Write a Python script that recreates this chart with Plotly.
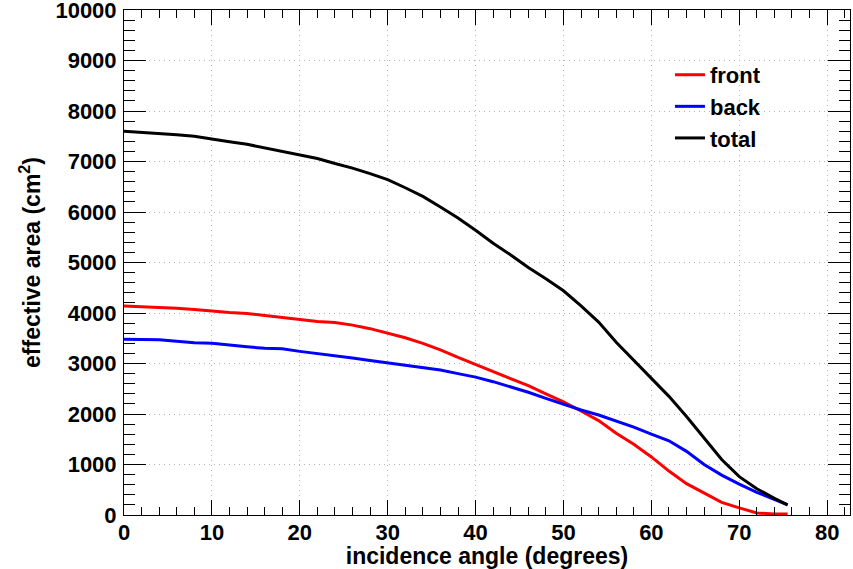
import plotly.graph_objects as go

angle = [0, 2, 4, 6, 8, 10, 12, 14, 16, 18, 20, 22, 24, 26, 28, 30, 32, 34, 36, 38,
         40, 42, 44, 46, 48, 50, 52, 54, 56, 58, 60, 62, 64, 66, 68, 70, 72, 74, 75.5]
front = [4140, 4130, 4120, 4095, 4070, 4035, 4010, 3990, 3950, 3910, 3870, 3830, 3810,
         3760, 3690, 3600, 3510, 3400, 3270, 3120, 2980, 2840, 2700, 2560, 2400, 2240,
         2060, 1870, 1620, 1400, 1150, 870, 620, 430, 250, 140, 40, 20, 20]
back = [3480, 3475, 3470, 3440, 3410, 3400, 3360, 3330, 3300, 3290, 3240, 3200, 3160,
        3110, 3060, 3010, 2970, 2920, 2870, 2800, 2730, 2640, 2540, 2430, 2310, 2190,
        2080, 1980, 1860, 1740, 1600, 1470, 1260, 1000, 790, 610, 450, 300, 200]
total = [7600, 7580, 7560, 7530, 7500, 7440, 7390, 7340, 7270, 7200, 7130, 7060, 6960,
         6870, 6760, 6640, 6480, 6310, 6100, 5880, 5640, 5380, 5150, 4900, 4680, 4440,
         4140, 3820, 3420, 3060, 2700, 2350, 1950, 1520, 1100, 760, 520, 330, 200]

x_ticks = [0, 10, 20, 30, 40, 50, 60, 70, 80]
y_ticks = [0, 1000, 2000, 3000, 4000, 5000, 6000, 7000, 8000, 9000, 10000]

series = [("front", front, "#ff0000"), ("back", back, "#0000ff"), ("total", total, "#000000")]

FONT = "Liberation Sans, Arial, sans-serif"

fig = go.Figure()
for name, vals, col in series:
    fig.add_trace(go.Scatter(x=angle, y=vals, mode="lines", name=name,
                             line=dict(color=col, width=3)))

axis_common = dict(
    showline=True, linecolor="black", linewidth=1, mirror="ticks",
    ticks="inside", tickcolor="black", tickwidth=1,
    showgrid=True, gridcolor="#b4b4b4", griddash="1px,4px", gridwidth=1,
    zeroline=False, automargin=False, tickmode="array",
    ticklabeloverflow="allow",
    tickfont=dict(family=FONT, size=22, color="black", weight="bold"),
)

fig.update_xaxes(
    range=[0, 82.6], tickvals=x_ticks, ticktext=[str(v) for v in x_ticks], ticklen=15,
    minor=dict(dtick=2, tick0=0, ticklen=8, ticks="inside", tickcolor="black", showgrid=False),
    ticklabelstandoff=-2,
    title=dict(text="incidence angle (degrees)", standoff=0,
               font=dict(family=FONT, size=23, color="black", weight="bold")),
    **axis_common,
)
fig.update_yaxes(
    range=[0, 10000], tickvals=y_ticks, ticktext=[str(v) for v in y_ticks], ticklen=22,
    minor=dict(dtick=200, tick0=0, ticklen=11, ticks="inside", tickcolor="black", showgrid=False),
    ticklabelstandoff=2,
    title=dict(text="effective area (cm<sup>2</sup>)", standoff=8,
               font=dict(family=FONT, size=23, color="black", weight="bold")),
    **axis_common,
)

fig.update_layout(
    width=853, height=569,
    margin=dict(l=124, r=3, t=10, b=54),
    paper_bgcolor="white", plot_bgcolor="white",
    showlegend=True,
    legend=dict(x=0.752, y=0.913, xanchor="left", yanchor="top",
                bgcolor="rgba(255,255,255,0)", borderwidth=0,
                font=dict(family=FONT, size=22, color="black", weight="bold"),
                tracegroupgap=0),
)

fig.write_html("out.html", config={"displayModeBar": False},
               post_script="document.body.style.margin='0';")
